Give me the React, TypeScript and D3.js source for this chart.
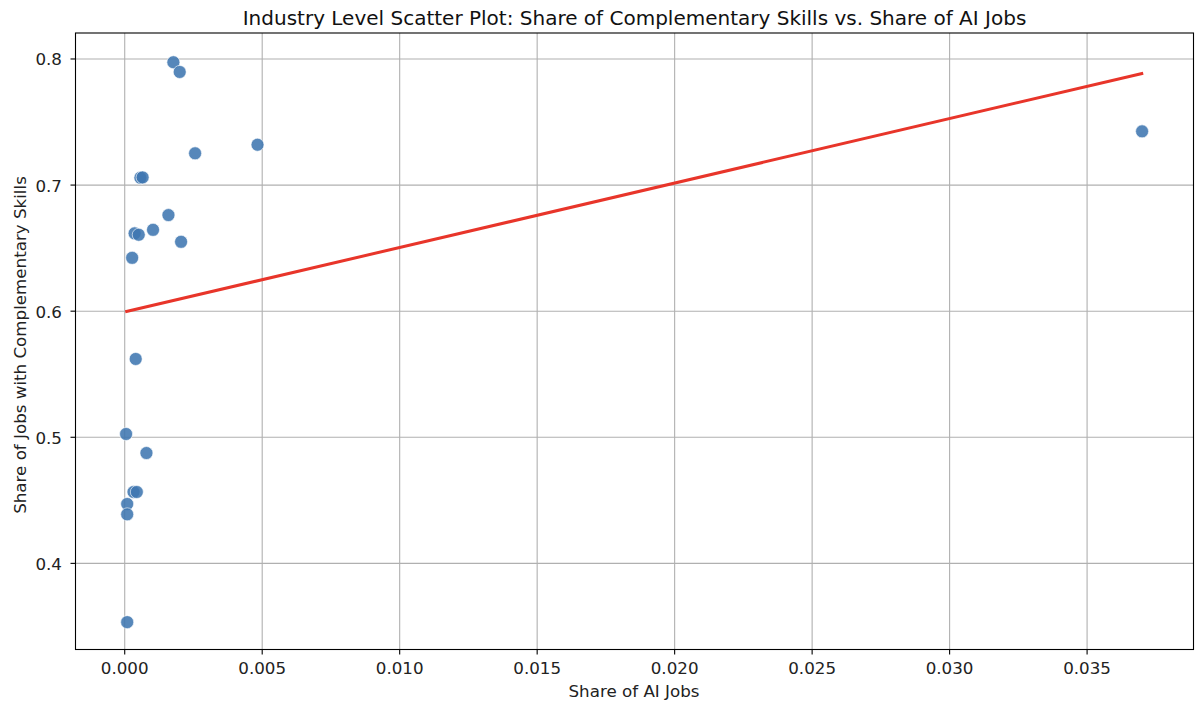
import React from "react";
import * as d3 from "d3";

const aiShare = [0.00177, 0.002, 0.00256, 0.00483, 0.00057, 0.00065, 0.00159, 0.00036, 0.00051, 0.00103, 0.00205, 0.00027, 0.0004, 0.00005, 0.00079, 0.00032, 0.00044, 0.00009, 0.00009, 0.00009, 0.037];
const compShare = [0.7974, 0.7897, 0.7252, 0.732, 0.7058, 0.7061, 0.6762, 0.6617, 0.6606, 0.6645, 0.655, 0.6423, 0.5621, 0.5026, 0.4875, 0.4566, 0.4566, 0.4471, 0.4389, 0.3534, 0.7426];
const fitX = [0.00002, 0.03704];
const fitY = [0.5995, 0.7887];
const xTicks = [0, 0.005, 0.01, 0.015, 0.02, 0.025, 0.03, 0.035];
const yTicks = [0.4, 0.5, 0.6, 0.7, 0.8];

const W = 1203, H = 706;
const L = 75.5, R = 1193.5, T = 33, B = 649.5;

export default function App() {
  const x = d3.scaleLinear().domain([-0.00179, 0.03887]).range([L, R]);
  const y = d3.scaleLinear().domain([0.3317, 0.8206]).range([B, T]);
  const font = "DejaVu Sans, sans-serif";
  const line = d3.line<number>().x((_, i) => x(fitX[i])).y((_, i) => y(fitY[i]));
  return (
    <svg width={W} height={H} style={{ position: "absolute", left: 0, top: 0, background: "#fff" }} fontFamily={font}>
      <rect x={0} y={0} width={W} height={H} fill="#fff" />
      {xTicks.map((t) => (
        <g key={"x" + t}>
          <line x1={x(t)} x2={x(t)} y1={T} y2={B} stroke="#b0b0b0" strokeWidth={1.1} />
          <line x1={x(t)} x2={x(t)} y1={B} y2={B + 5} stroke="#000" strokeWidth={1.1} />
          <text x={x(t)} y={674} fontSize={16.7} textAnchor="middle" fill="#222">{d3.format(".3f")(t)}</text>
        </g>
      ))}
      {yTicks.map((t) => (
        <g key={"y" + t}>
          <line x1={L} x2={R} y1={y(t)} y2={y(t)} stroke="#b0b0b0" strokeWidth={1.1} />
          <line x1={L - 5} x2={L} y1={y(t)} y2={y(t)} stroke="#000" strokeWidth={1.1} />
          <text x={62} y={y(t) + 6.5} fontSize={16.7} textAnchor="end" fill="#222">{d3.format(".1f")(t)}</text>
        </g>
      ))}
      {aiShare.map((v, i) => (
        <circle key={i} cx={x(v)} cy={y(compShare[i])} r={6.5} fill="#3f76b0" fillOpacity={0.88} stroke="#fff" strokeWidth={0.6} />
      ))}
      <path d={line([0, 1]) || ""} fill="none" stroke="#e8352a" strokeWidth={3} />
      <rect x={L} y={T} width={R - L} height={B - T} fill="none" stroke="#000" strokeWidth={1.1} />
      <text x={634.5} y={25} fontSize={20} textAnchor="middle" fill="#111">Industry Level Scatter Plot: Share of Complementary Skills vs. Share of AI Jobs</text>
      <text x={634} y={697} fontSize={16.7} textAnchor="middle" fill="#222">Share of AI Jobs</text>
      <text transform={`translate(26,345) rotate(-90)`} fontSize={16.7} textAnchor="middle" fill="#222">Share of Jobs with Complementary Skills</text>
    </svg>
  );
}
